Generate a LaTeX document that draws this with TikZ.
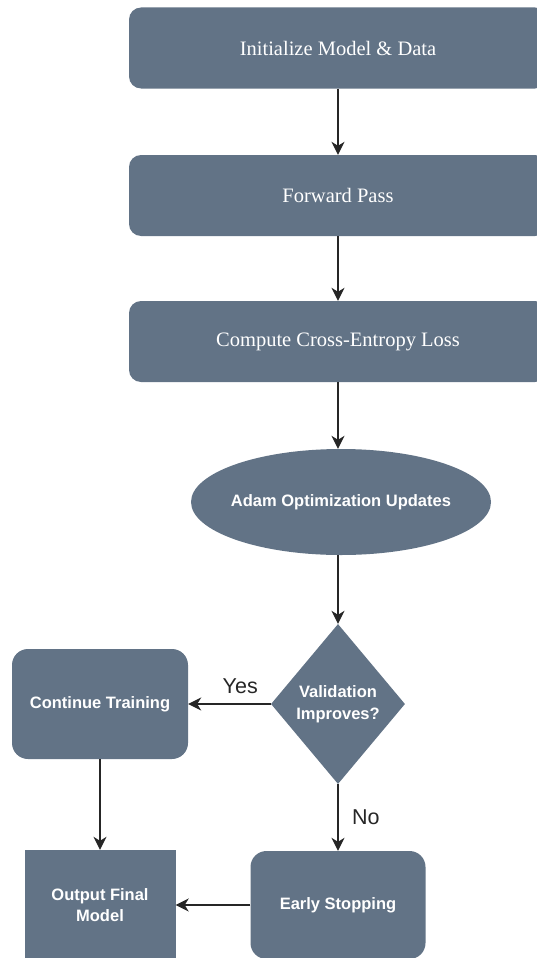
\documentclass[tikz,border=0pt]{standalone}
\usepackage{fontspec}
\setmainfont{Liberation Serif}
\setsansfont{Liberation Sans}
\usetikzlibrary{arrows.meta,shapes.geometric}
\definecolor{slate}{RGB}{98,115,134}
\begin{document}
\begin{tikzpicture}[
  x=1pt,y=1pt,
  stage/.style={fill=slate, text=white, rounded corners=12pt, minimum width=418pt, minimum height=81pt, font=\fontsize{20.5}{24}\selectfont},
  block/.style={fill=slate, text=white, align=center, inner sep=0pt, font=\sffamily\bfseries\fontsize{16.5}{21.5}\selectfont},
  arrow/.style={-{Stealth[length=13pt,width=13pt,inset=4pt]}, line width=1.4pt, black!85},
  lbl/.style={font=\sffamily\fontsize{21.5}{24}\selectfont}
]
\useasboundingbox (0,0) rectangle (537,-958);
\clip (0,0) rectangle (537,-958);
% main column
\node[stage] (init) at (338,-48) {Initialize Model \& Data};
\node[stage] (fwd) at (338,-195.5) {Forward Pass};
\node[stage] (loss) at (338,-341.5) {Compute Cross-Entropy Loss};
\node[block, ellipse, inner xsep=-4pt, minimum width=300pt, minimum height=106pt] (adam) at (341,-502) {Adam Optimization Updates};
\node[block, diamond, minimum width=134pt, minimum height=160pt] (valid) at (338,-704) {Validation\\Improves?};
% branches
\node[block, rounded corners=16pt, minimum width=176pt, minimum height=110pt] (cont) at (100,-704) {Continue Training};
\node[block, minimum width=151pt, minimum height=110pt] (final) at (100,-905) {Output Final\\Model};
\node[block, rounded corners=16pt, minimum width=175pt, minimum height=108pt] (stop) at (338,-905) {Early Stopping};
\draw[arrow] (init) -- (fwd);
\draw[arrow] (fwd) -- (loss);
\draw[arrow] (loss) -- (loss |- adam.north);
\draw[arrow] (adam.south -| valid) -- (valid);
\draw[arrow] (valid) -- node[lbl, pos=0.37, above=6pt] (yes) {Yes} (cont);
\draw[arrow] (valid) -- node[lbl, right=10pt] (no) {No} (stop);
\draw[arrow] (cont) -- (final);
\draw[arrow] (stop) -- (final);
\end{tikzpicture}
\end{document}
